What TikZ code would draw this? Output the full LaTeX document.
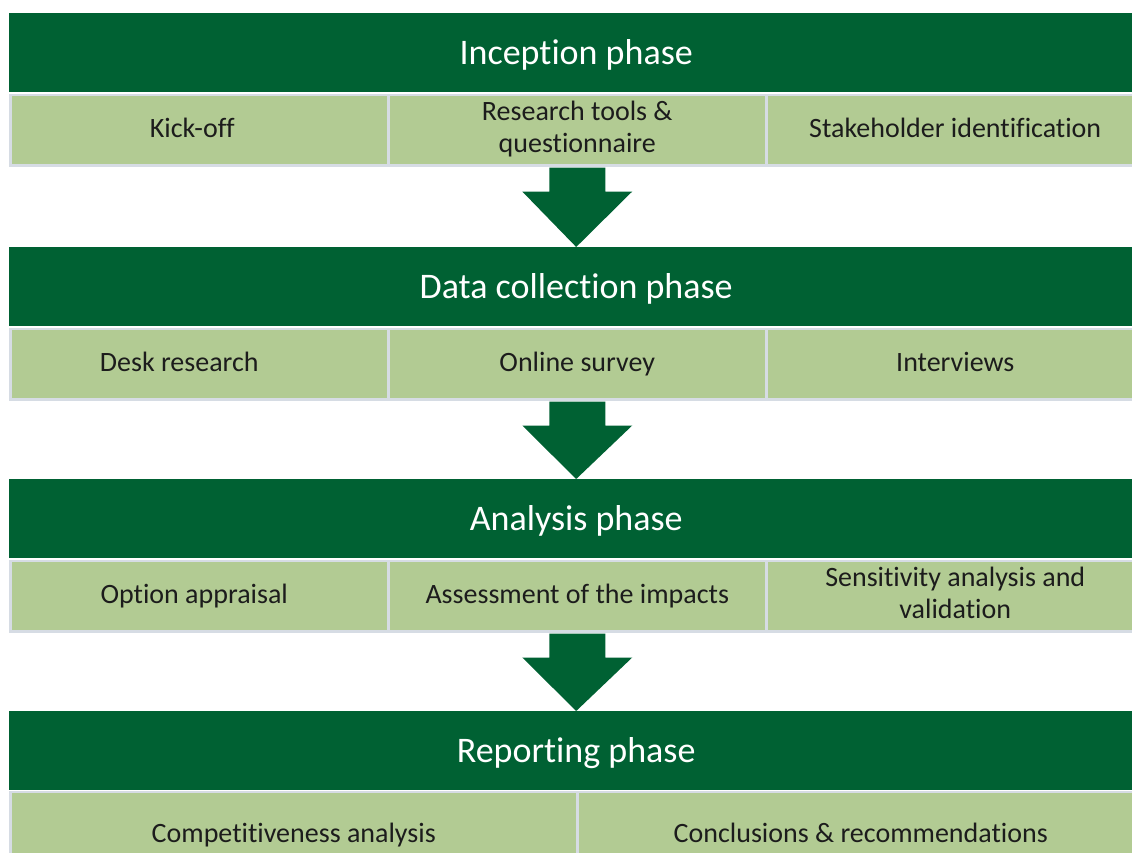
\documentclass[tikz,border=0pt]{standalone}
\usepackage{fontspec}
\setmainfont[Ligatures={NoCommon}]{Carlito}
\usetikzlibrary{calc}
\definecolor{dkgreen}{RGB}{0,97,51}
\definecolor{ltgreen}{RGB}{178,203,147}
\definecolor{cellline}{RGB}{214,220,228}
\definecolor{celltext}{RGB}{28,28,28}
\newcommand\headstrut{\rule[-9pt]{0pt}{41pt}}
\newcommand\cellstrut{\rule[-7pt]{0pt}{28pt}}
\newcommand\phasearrow[2]{%
  \fill[dkgreen] ($(#1.south)+(-28,-1)$) -- ($(#1.south)+(-28,-25)$) -- ($(#1.south)+(-55,-25)$)
    -- (#2.north) -- ($(#1.south)+(55,-25)$) -- ($(#1.south)+(28,-25)$) -- ($(#1.south)+(28,-1)$) -- cycle;}
\begin{document}
\begin{tikzpicture}[x=1pt,y=1pt,
  header/.style={rectangle, fill=dkgreen, draw=none, minimum width=1134pt, minimum height=79pt,
    inner sep=0pt, text=white, font=\fontsize{36pt}{40pt}\selectfont, anchor=north west,
    execute at begin node=\headstrut},
  cell/.style={rectangle, fill=ltgreen, draw=cellline, line width=2.5pt, minimum width=378pt,
    minimum height=70.5pt, inner sep=0pt, text=celltext, font=\fontsize{28pt}{32pt}\selectfont,
    align=center, anchor=north west,
    execute at begin node=\cellstrut, execute at end node=\cellstrut},
  widecell/.style={cell, minimum width=567pt, minimum height=88pt},
  celltxt/.style={text=celltext, font=\fontsize{28pt}{32pt}\selectfont,
    execute at begin node=\cellstrut},
]
\useasboundingbox (0,0) rectangle (1132,-852);
\clip (0,0) rectangle (1132,-852);

% Row 1
\node[header] (h1) at (9,-13) {Inception phase};
\node[cell, label={[celltxt, xshift=-7pt]center:Kick-off}] (c11) at (9,-93.5) {};
\node[cell] (c12) at (387,-93.5) {Research tools \&\\questionnaire};
\node[cell] (c13) at (765,-93.5) {Stakeholder identification};

% Row 2
\node[header] (h2) at (9,-247) {Data collection phase};
\node[cell, label={[celltxt, xshift=-20pt]center:Desk research}] (c21) at (9,-327.5) {};
\node[cell] (c22) at (387,-327.5) {Online survey};
\node[cell] (c23) at (765,-327.5) {Interviews};

% Row 3
\node[header] (h3) at (9,-479) {Analysis phase};
\node[cell, label={[celltxt, xshift=-5pt]center:Option appraisal}] (c31) at (9,-559.5) {};
\node[cell] (c32) at (387,-559.5) {Assessment of the impacts};
\node[cell] (c33) at (765,-559.5) {Sensitivity analysis and\\validation};

% Row 4
\node[header] (h4) at (9,-711) {Reporting phase};
\node[widecell] (c41) at (9,-790.5) {Competitiveness analysis};
\node[widecell] (c42) at (576,-790.5) {Conclusions \& recommendations};

% Arrows
\phasearrow{c12}{h2}
\phasearrow{c22}{h3}
\phasearrow{c32}{h4}
\end{tikzpicture}
\end{document}
